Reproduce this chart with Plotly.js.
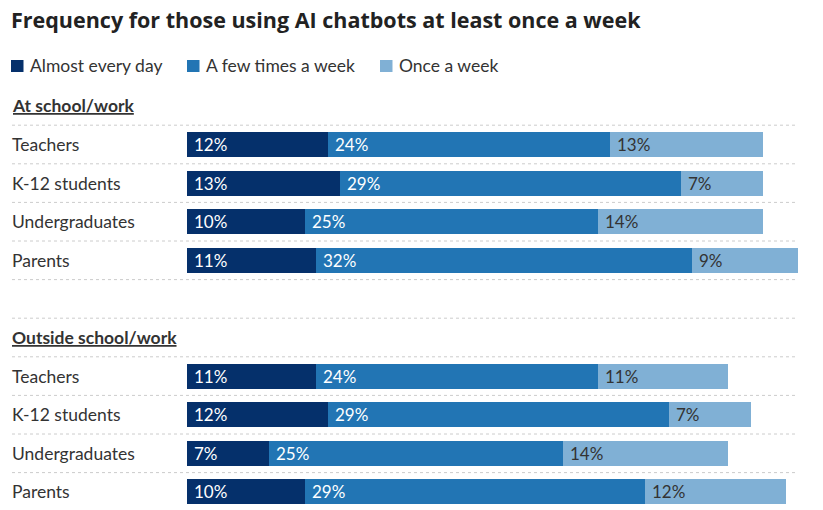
<!DOCTYPE html>
<html>
<head>
<meta charset="utf-8">
<script src="https://cdn.plot.ly/plotly-3.0.1.min.js"></script>
<style>
  html, body { margin: 0; padding: 0; background: #fff; }
  #chart { width: 823px; height: 510px; }
</style>
</head>
<body>
<div id="chart"></div>
<script>
// ---- data ----
const titleText = 'Frequency for those using AI chatbots at least once a week';
const groups = ['At school/work', 'Outside school/work'];
const categories = ['Teachers', 'K-12 students', 'Undergraduates', 'Parents'];
const seriesNames = ['Almost every day', 'A few times a week', 'Once a week'];
const almostEveryDay = [12, 13, 10, 11, 11, 12, 7, 10];
const fewTimesAWeek = [24, 29, 25, 32, 24, 29, 25, 29];
const onceAWeek = [13, 7, 14, 9, 11, 7, 14, 12];

// ---- styling ----
const W = 823, H = 510;
const FONT = 'Lato, "Open Sans", sans-serif';
const TITLE_FONT = '"Open Sans", Lato, sans-serif';
const colors = ['#05306b', '#2275b4', '#80b0d5'];
const labelColors = ['#ffffff', '#ffffff', '#333333'];
const series = [almostEveryDay, fewTimesAWeek, onceAWeek];

// row positions: group g, item i -> g*6 + i ; header at g*6 - 1
const nPer = categories.length;
const rowPos = [];
const rowLabels = [];
groups.forEach((g, gi) => categories.forEach((c, ci) => { rowPos.push(gi * 6 + ci); rowLabels.push(c); }));

const pitch = 38.6, firstCenter = 144.5;
const yTop = -firstCenter / pitch;
const yBottom = (H - firstCenter) / pitch;
const pxPerUnit = 11.75, barStart = 187;
const textLeft = 10 / W;

const traces = series.map((vals, si) => ({
  type: 'bar',
  orientation: 'h',
  name: seriesNames[si],
  x: vals,
  y: rowPos,
  width: 25 / pitch,
  marker: { color: colors[si], line: { width: 0 } },
  hoverinfo: 'skip',
  showlegend: false
}));

const annotations = [];
const shapes = [];

// value labels
rowPos.forEach((p, ri) => {
  let cum = 0;
  series.forEach((vals, si) => {
    annotations.push({
      x: cum, y: p, xref: 'x', yref: 'y',
      text: vals[ri] + '%', showarrow: false,
      xanchor: 'left', yanchor: 'middle', xshift: 5,
      font: { family: FONT, size: 17, color: labelColors[si] }
    });
    cum += vals[ri];
  });
  // row label
  annotations.push({
    x: textLeft, y: p, xref: 'paper', yref: 'y',
    text: rowLabels[ri], showarrow: false,
    xanchor: 'left', yanchor: 'middle',
    font: { family: FONT, size: 17.5, color: '#333333' }
  });
});

// group headers
groups.forEach((g, gi) => {
  annotations.push({
    x: textLeft, y: gi * 6 - 1, xref: 'paper', yref: 'y',
    text: '<b><u>' + g + '</u></b>', showarrow: false,
    xanchor: 'left', yanchor: 'middle',
    font: { family: FONT, size: 17.5, color: '#333333' }
  });
});

// dotted separators
const sepPositions = [];
groups.forEach((g, gi) => {
  const start = gi === 0 ? gi * 6 : gi * 6 - 1;
  for (let k = start; k <= gi * 6 + nPer; k++) sepPositions.push(k - 0.5);
});
sepPositions.forEach(sp => {
  shapes.push({
    type: 'line', xref: 'paper', yref: 'y',
    x0: 12 / W, x1: 798 / W, y0: sp, y1: sp,
    line: { color: '#cccccc', width: 1, dash: 'dot' }
  });
});

// manual legend
const legendSquareX = [11, 187, 380];
seriesNames.forEach((n, si) => {
  const x0 = legendSquareX[si];
  shapes.push({
    type: 'rect', xref: 'paper', yref: 'paper',
    x0: x0 / W, x1: (x0 + 12.5) / W, y0: 1 - 72 / H, y1: 1 - 60 / H,
    fillcolor: colors[si], line: { width: 0 }
  });
  annotations.push({
    x: (x0 + 17) / W, y: 1 - 66 / H, xref: 'paper', yref: 'paper',
    text: n, showarrow: false, xanchor: 'left', yanchor: 'middle',
    font: { family: FONT, size: 17.5, color: '#333333' }
  });
});

const layout = {
  width: W, height: H,
  margin: { l: 0, r: 0, t: 0, b: 0, pad: 0 },
  paper_bgcolor: '#ffffff', plot_bgcolor: '#ffffff',
  barmode: 'stack',
  showlegend: false,
  title: {
    text: '<b>' + titleText + '</b>',
    font: { family: TITLE_FONT, size: 21.5, color: '#222222' },
    x: 11 / W, xanchor: 'left', xref: 'paper',
    y: 1 - 20 / H, yanchor: 'middle', yref: 'container'
  },
  xaxis: {
    domain: [barStart / W, 1],
    range: [0, (W - barStart) / pxPerUnit],
    visible: false, fixedrange: true
  },
  yaxis: {
    domain: [0, 1],
    range: [yBottom, yTop],
    visible: false, fixedrange: true
  },
  shapes: shapes,
  annotations: annotations
};

Plotly.newPlot('chart', traces, layout, { staticPlot: true, displayModeBar: false });
</script>
</body>
</html>
